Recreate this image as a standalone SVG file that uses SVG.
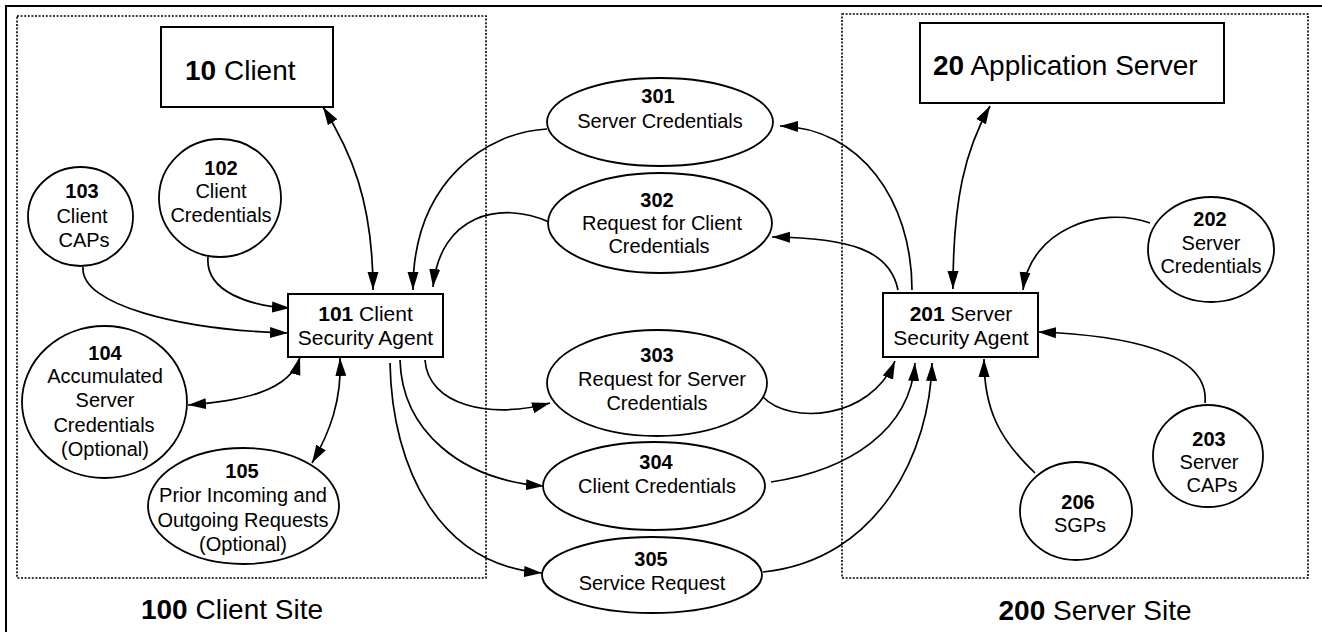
<svg xmlns="http://www.w3.org/2000/svg" width="1322" height="632" viewBox="0 0 1322 632">
<style>
text{font-family:"Liberation Sans",Arial,sans-serif;fill:#000;text-anchor:middle}
.s20{font-size:20px}
.s21{font-size:21px}
.s28{font-size:28px}
.b{font-weight:bold}
.st{text-anchor:start}
.node{fill:#fff;stroke:#000;stroke-width:1.8}
.box{fill:#fff;stroke:#000;stroke-width:2}
.site{fill:none;stroke:#000;stroke-width:1.6;stroke-dasharray:2 1.6}
.c path{fill:none;stroke:#000;stroke-width:1.7}
.one{marker-end:url(#ah)}
.two{marker-end:url(#ah);marker-start:url(#ah)}
</style>
<defs>
<marker id="ah" markerUnits="userSpaceOnUse" markerWidth="19" markerHeight="12" refX="18" refY="6" orient="auto-start-reverse">
<path d="M0,0.5 L18,6 L0,11.5 z" fill="#000"/>
</marker>
</defs>
<rect width="1322" height="632" fill="#fff"/>
<rect x="6" y="6" width="1340" height="650" fill="none" stroke="#000" stroke-width="2"/>
<g id="site100">
<rect class="site" x="17" y="16" width="469" height="562"/>
<text class="s28" x="232" y="619"><tspan class="b">100</tspan> Client Site</text>
</g>
<g id="site200">
<rect class="site" x="842" y="14" width="466" height="564"/>
<text class="s28" x="1095" y="620"><tspan class="b">200</tspan> Server Site</text>
</g>
<g id="connectors" class="c">
<path class="two" d="M323,107 C350,150 373,200 373,290"/>
<path class="one" d="M208,257 C205,292 250,306 290,308"/>
<path class="one" d="M83,267 C80,305 180,330 288,333"/>
<path class="one" d="M547,129 C488,132 413,180 413,290"/>
<path class="one" d="M549,222 C500,200 440,215 433,287"/>
<path class="two" d="M300,357 C290,392 240,401 188,405"/>
<path class="two" d="M340,358 C342,400 330,432 312,463"/>
<path class="one" d="M425,360 C428,405 490,420 550,403"/>
<path class="one" d="M400,360 C402,430 460,480 544,486"/>
<path class="one" d="M390,363 C392,470 440,565 542,573"/>
<path class="one" d="M912,290 C912,200 860,128 780,126"/>
<path class="one" d="M898,290 C890,250 850,238 772,237"/>
<path class="two" d="M990,106 C965,150 953,200 953,289"/>
<path class="one" d="M1150,223 C1100,205 1030,230 1023,290"/>
<path class="one" d="M1205,403 C1210,350 1120,335 1038,332"/>
<path class="one" d="M1035,473 C1000,440 984,410 984,359"/>
<path class="one" d="M763,397 C790,425 870,420 895,361"/>
<path class="one" d="M771,482 C850,470 910,430 915,363"/>
<path class="one" d="M763,572 C880,560 930,450 932,363"/>
</g>
<g id="n10">
<rect class="box" x="161" y="27" width="172" height="80"/>
<text class="s28 st" x="185" y="80"><tspan class="b">10</tspan> Client</text>
</g>
<g id="n20">
<rect class="box" x="920" y="23" width="304" height="80"/>
<text class="s28 st" x="933" y="75"><tspan class="b">20</tspan> Application Server</text>
</g>
<g id="n101">
<rect class="box" x="288" y="294" width="155" height="63"/>
<text class="s21" x="365.5" y="321"><tspan class="b">101</tspan> Client</text>
<text class="s21" x="365.5" y="345">Security Agent</text>
</g>
<g id="n201">
<rect class="box" x="883" y="293" width="155" height="64"/>
<text class="s21" x="961" y="321"><tspan class="b">201</tspan> Server</text>
<text class="s21" x="961" y="345">Security Agent</text>
</g>
<g id="n102">
<ellipse class="node" cx="220" cy="198" rx="61" ry="59"/>
<text class="s20 b" x="221" y="175">102</text>
<text class="s20" x="221" y="198">Client</text>
<text class="s20" x="221" y="222">Credentials</text>
</g>
<g id="n103">
<ellipse class="node" cx="80.5" cy="216.5" rx="52.5" ry="49.5"/>
<text class="s20 b" x="82" y="198">103</text>
<text class="s20" x="82" y="223">Client</text>
<text class="s20" x="84" y="247">CAPs</text>
</g>
<g id="n104">
<ellipse class="node" cx="104.5" cy="402" rx="82.5" ry="76"/>
<text class="s20 b" x="105" y="360">104</text>
<text class="s20" x="105" y="383">Accumulated</text>
<text class="s20" x="105" y="407">Server</text>
<text class="s20" x="104" y="432">Credentials</text>
<text class="s20" x="105" y="456">(Optional)</text>
</g>
<g id="n105">
<ellipse class="node" cx="243.5" cy="506" rx="95.5" ry="58"/>
<text class="s20 b" x="242" y="478">105</text>
<text class="s20" x="243" y="502">Prior Incoming and</text>
<text class="s20" x="243" y="527">Outgoing Requests</text>
<text class="s20" x="243" y="551">(Optional)</text>
</g>
<g id="n301">
<ellipse class="node" cx="660" cy="122" rx="113" ry="44"/>
<text class="s20 b" x="658" y="103">301</text>
<text class="s20" x="660" y="128">Server Credentials</text>
</g>
<g id="n302">
<ellipse class="node" cx="660" cy="223" rx="112" ry="50"/>
<text class="s20 b" x="657" y="207">302</text>
<text class="s20" x="662" y="230">Request for Client</text>
<text class="s20" x="659" y="253">Credentials</text>
</g>
<g id="n303">
<ellipse class="node" cx="657" cy="383" rx="110" ry="53"/>
<text class="s20 b" x="657" y="362">303</text>
<text class="s20" x="662" y="386">Request for Server</text>
<text class="s20" x="657" y="410">Credentials</text>
</g>
<g id="n304">
<ellipse class="node" cx="654" cy="486" rx="111" ry="44"/>
<text class="s20 b" x="656" y="469">304</text>
<text class="s20" x="657" y="493">Client Credentials</text>
</g>
<g id="n305">
<ellipse class="node" cx="652" cy="575" rx="110" ry="38"/>
<text class="s20 b" x="651" y="566">305</text>
<text class="s20" x="652" y="590">Service Request</text>
</g>
<g id="n202">
<ellipse class="node" cx="1211" cy="249.5" rx="63" ry="52.5"/>
<text class="s20 b" x="1210" y="226">202</text>
<text class="s20" x="1211" y="250">Server</text>
<text class="s20" x="1211" y="273">Credentials</text>
</g>
<g id="n203">
<ellipse class="node" cx="1208" cy="456" rx="55" ry="51"/>
<text class="s20 b" x="1209" y="446">203</text>
<text class="s20" x="1209" y="469">Server</text>
<text class="s20" x="1212" y="492">CAPs</text>
</g>
<g id="n206">
<ellipse class="node" cx="1076" cy="511" rx="56" ry="49"/>
<text class="s20 b" x="1078" y="509">206</text>
<text class="s20" x="1080" y="532">SGPs</text>
</g>
</svg>
